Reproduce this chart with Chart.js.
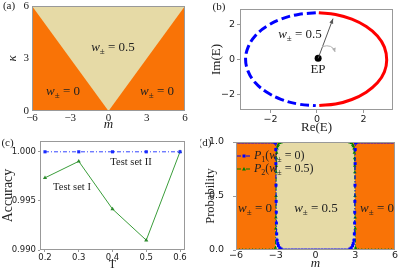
<!DOCTYPE html>
<html>
<head>
<meta charset="utf-8">
<script src="https://cdn.jsdelivr.net/npm/chart.js@4.4.1/dist/chart.umd.min.js"></script>
<style>
  body { margin: 0; background: #fff; }
  #wrap { position: relative; width: 399px; height: 272px; }
  canvas { position: absolute; }
</style>
</head>
<body>
<div id="wrap">
  <canvas id="panelA" width="200" height="136" style="left:0;top:0"></canvas>
  <canvas id="panelB" width="199" height="136" style="left:200px;top:0"></canvas>
  <canvas id="panelC" width="200" height="136" style="left:0;top:136px"></canvas>
  <canvas id="panelD" width="199" height="136" style="left:200px;top:136px"></canvas>
</div>
<script>
// (a) phase boundary kappa = |m|
const phaseM = [-6, 0, 6];
const phaseKappa = [6, 0, 6];
const aTicksM = [-6, -3, 0, 3, 6];
const aTicksKappa = [0, 3, 6];

// (b) energy loop in the complex plane
const redRe = [0.08, 0.8, 1.5, 2.12, 2.6, 2.9, 3.0, 2.9, 2.6, 2.12, 1.5, 0.8, 0.1];
const redIm = [2.65, 2.56, 2.29, 1.87, 1.33, 0.69, -0.05, -0.72, -1.35, -1.88, -2.3, -2.56, -2.64];
const blueRe = [-0.05, -0.8, -1.55, -2.17, -2.66, -2.96, -3.07, -2.96, -2.66, -2.17, -1.55, -0.8, -0.05];
const blueIm = [2.65, 2.56, 2.29, 1.87, 1.33, 0.69, 0, -0.69, -1.33, -1.87, -2.29, -2.56, -2.65];
const epRe = [0.05];
const epIm = [0.05];
const bTicksRe = [-2, 0, 2];
const bTicksIm = [-2, 0, 2];

// (c) accuracy vs T
const temps = [0.2, 0.3, 0.4, 0.5, 0.6];
const accSetI = [0.99735, 0.99903, 0.99417, 0.9910, 1.0];
const accSetII = [1.0, 1.0, 1.0, 1.0, 1.0];
const cTicksAcc = [0.990, 0.995, 1.000];

// (d) probabilities vs m
const mGrid = [-6, -5.75, -5.5, -5.25, -5, -4.75, -4.5, -4.25, -4, -3.75, -3.5, -3.25, -3.1,
  -3.04, -3.02, -3.0, -2.99, -2.98, -2.97, -2.96, -2.95, -2.93, -2.9, -2.85, -2.8, -2.7, -2.6, -2.5,
  -2.25, -2, -1.75, -1.5, -1.25, -1, -0.75, -0.5, -0.25, 0, 0.25, 0.5, 0.75, 1, 1.25, 1.5, 1.75, 2, 2.25,
  2.5, 2.6, 2.7, 2.8, 2.85, 2.9, 2.93, 2.95, 2.96, 2.97, 2.98, 2.99, 3.0, 3.02, 3.04,
  3.1, 3.25, 3.5, 3.75, 4, 4.25, 4.5, 4.75, 5, 5.25, 5.5, 5.75, 6];
const probP1 = [1, 1, 1, 1, 1, 1, 1, 1, 1, 1, 1, 1, 1,
  1.0, 0.99, 0.93, 0.8, 0.6, 0.45, 0.35, 0.25, 0.15, 0.09, 0.06, 0.04, 0.02, 0.01, 0.0,
  0, 0, 0, 0, 0, 0, 0, 0, 0, 0, 0, 0, 0, 0, 0, 0, 0, 0, 0,
  0.0, 0.01, 0.02, 0.04, 0.06, 0.09, 0.15, 0.25, 0.35, 0.45, 0.6, 0.8, 0.93, 0.99, 1.0,
  1, 1, 1, 1, 1, 1, 1, 1, 1, 1, 1, 1, 1];
const probP2 = [0, 0, 0, 0, 0, 0, 0, 0, 0, 0, 0, 0, 0,
  0.0, 0.02, 0.2, 0.3, 0.5, 0.72, 0.78, 0.85, 0.9, 0.94, 0.96, 0.975, 0.99, 0.995, 1.0,
  1, 1, 1, 1, 1, 1, 1, 1, 1, 1, 1, 1, 1, 1, 1, 1, 1, 1, 1,
  1.0, 0.995, 0.99, 0.975, 0.96, 0.94, 0.9, 0.85, 0.78, 0.72, 0.5, 0.3, 0.2, 0.02, 0.0,
  0, 0, 0, 0, 0, 0, 0, 0, 0, 0, 0, 0, 0];
const dTicksM = [-6, -3, 0, 3, 6];
const dTicksP = [0, 0.5, 1];

const SERIF = '"Liberation Serif", "DejaVu Serif", serif';
const SANS = '"DejaVu Sans", sans-serif';
const ORANGE = '#f97306';
const BEIGE = '#e6daa6';
const INK = '#222';

const pts = (xs, ys) => xs.map((x, i) => ({x: x, y: ys[i]}));
const minus = v => (v < 0 ? '\u2212' + Math.abs(v) : '' + v);

// draw text made of italic / upright / subscript pieces
function richText(ctx, parts, x, y, size, align) {
  const fontOf = k => k === 's' ? `${Math.round(size * 0.7)}px ${SERIF}`
                                 : `${k === 'i' ? 'italic ' : ''}${size}px ${SERIF}`;
  let w = 0;
  parts.forEach(([t, k]) => { ctx.font = fontOf(k); w += ctx.measureText(t).width; });
  let cx = align === 'left' ? x : x - w / 2;
  ctx.textAlign = 'left';
  ctx.textBaseline = 'middle';
  parts.forEach(([t, k]) => {
    ctx.font = fontOf(k);
    ctx.fillText(t, cx, k === 's' ? y + size * 0.3 : y);
    cx += ctx.measureText(t).width;
  });
}

function plainText(ctx, t, x, y, size, family) {
  ctx.font = `${size}px ${family || SERIF}`;
  ctx.textAlign = 'center';
  ctx.textBaseline = 'middle';
  ctx.fillText(t, x, y);
}

function arrowHead(ctx, x1, y1, x2, y2, len, half) {
  const ang = Math.atan2(y2 - y1, x2 - x1);
  ctx.beginPath();
  ctx.moveTo(x2, y2);
  ctx.lineTo(x2 - len * Math.cos(ang) + half * Math.sin(ang), y2 - len * Math.sin(ang) - half * Math.cos(ang));
  ctx.lineTo(x2 - len * Math.cos(ang) - half * Math.sin(ang), y2 - len * Math.sin(ang) + half * Math.cos(ang));
  ctx.closePath();
  ctx.fill();
}

// background of the plot area, frame and annotations
function panelPlugin(bg, extras) {
  return {
    id: 'panel',
    beforeDraw(chart) {
      const {ctx, chartArea: a} = chart;
      if (!bg) return;
      ctx.save();
      ctx.fillStyle = bg;
      ctx.fillRect(a.left, a.top, a.right - a.left, a.bottom - a.top);
      ctx.restore();
    },
    afterDraw(chart) {
      const {ctx, chartArea: a} = chart;
      ctx.save();
      ctx.strokeStyle = '#999';
      ctx.lineWidth = 1;
      ctx.strokeRect(a.left + 0.5, a.top + 0.5, a.right - a.left - 1, a.bottom - a.top - 1);
      ctx.fillStyle = INK;
      if (extras) extras(chart, ctx);
      ctx.restore();
    }
  };
}

function axis(pos, min, max, ticks, o) {
  return {
    type: 'linear', position: pos, min: min, max: max,
    afterBuildTicks: s => { s.ticks = ticks.map(v => ({value: v})); },
    afterFit: s => {
      if (pos === 'left') s.width = o.size; else s.height = o.size;
      s.paddingLeft = s.paddingRight = s.paddingTop = s.paddingBottom = 0;
    },
    border: {display: false},
    grid: {display: true, drawOnChartArea: false, drawTicks: o.tick > 0, tickLength: o.tick, tickColor: '#999'},
    ticks: {font: o.font, color: INK, padding: o.pad, maxRotation: 0, autoSkip: false,
            callback: o.fmt || (v => minus(v))},
    title: {display: true, text: o.title, font: o.titleFont, color: INK, padding: o.titlePad}
  };
}

function baseOptions(padding, scales, filler) {
  return {
    responsive: false, animation: false, devicePixelRatio: 1,
    layout: {padding: padding},
    plugins: {legend: {display: false}, tooltip: {enabled: false},
              filler: {drawTime: filler || 'beforeDatasetsDraw'}},
    scales: scales
  };
}

const W = (v) => [['w', 'i'], ['\u00b1', 's'], [' = ' + v, 'n']];

// ---------- (a)
new Chart(document.getElementById('panelA'), {
  type: 'line',
  data: {datasets: [{
    data: pts(phaseM, phaseKappa),
    fill: 'end', backgroundColor: BEIGE, borderWidth: 0, pointRadius: 0
  }]},
  options: baseOptions({left: 0, top: 6, right: 15, bottom: 0}, {
    x: axis('bottom', -6, 6, aTicksM, {size: 25, tick: 0, pad: 1, font: {family: SERIF, size: 11},
      title: 'm', titleFont: {family: SERIF, size: 13, style: 'italic'}, titlePad: {top: 0, bottom: 4}}),
    y: axis('left', 0, 6, aTicksKappa, {size: 32, tick: 0, pad: 3, font: {family: SERIF, size: 11},
      title: '\u03ba', titleFont: {family: SERIF, size: 13, style: 'italic'}, titlePad: {top: 5, bottom: 0}})
  }),
  plugins: [panelPlugin(ORANGE, (chart, ctx) => {
    plainText(ctx, '(a)', 9, 6, 11);
    richText(ctx, W('0.5'), 113, 48, 13);
    richText(ctx, W('0'), 63, 92, 13);
    richText(ctx, W('0'), 157, 92, 13);
  })]
});

// ---------- (b)
new Chart(document.getElementById('panelB'), {
  type: 'line',
  data: {datasets: [
    {data: pts(epRe, epIm), showLine: false, pointRadius: 3.5, pointBackgroundColor: '#000', pointBorderWidth: 0},
    {data: pts(redRe, redIm), borderColor: '#ff0000', borderWidth: 3, pointRadius: 0, tension: 0.4, fill: false},
    {data: pts(blueRe, blueIm), borderColor: '#0000ff', borderWidth: 3, borderDash: [9, 4], pointRadius: 0, tension: 0.4, fill: false}
  ]},
  options: baseOptions({left: 0, top: 9, right: 6, bottom: 0}, {
    x: axis('bottom', -3.31, 3.27, bTicksRe, {size: 26, tick: 3, pad: 1, font: {family: SANS, size: 9.5},
      title: 'Re(E)', titleFont: {family: SERIF, size: 13}, titlePad: {top: 0, bottom: 1}}),
    y: axis('left', -2.9, 2.87, bTicksIm, {size: 40, tick: 3, pad: 2, font: {family: SANS, size: 9.5},
      title: 'Im(E)', titleFont: {family: SERIF, size: 13}, titlePad: {top: 9, bottom: 0}})
  }),
  plugins: [panelPlugin(null, (chart, ctx) => {
    const xs = chart.scales.x, ys = chart.scales.y;
    plainText(ctx, '(b)', 19, 7, 11);
    richText(ctx, W('0.5'), 100, 35, 13);
    plainText(ctx, 'EP', 118, 70, 13);
    // winding arrow from the EP
    const x1 = xs.getPixelForValue(0.05), y1 = ys.getPixelForValue(0.05);
    const x2 = xs.getPixelForValue(0.69), y2 = ys.getPixelForValue(2.32);
    ctx.strokeStyle = '#555'; ctx.fillStyle = '#555'; ctx.lineWidth = 1;
    ctx.beginPath(); ctx.moveTo(x1, y1); ctx.lineTo(x2, y2); ctx.stroke();
    arrowHead(ctx, x1, y1, x2, y2, 5, 2);
    // small curved arrow
    const cx0 = xs.getPixelForValue(0.22), cy0 = ys.getPixelForValue(0.72);
    const ccx = xs.getPixelForValue(0.66), ccy = ys.getPixelForValue(0.9);
    const cx1 = xs.getPixelForValue(0.78), cy1 = ys.getPixelForValue(0.42);
    ctx.strokeStyle = '#b0b0b0'; ctx.fillStyle = '#b0b0b0';
    ctx.beginPath(); ctx.moveTo(cx0, cy0); ctx.quadraticCurveTo(ccx, ccy, cx1, cy1); ctx.stroke();
    arrowHead(ctx, ccx, ccy, cx1, cy1, 4, 2);
  })]
});

// ---------- (c)
new Chart(document.getElementById('panelC'), {
  type: 'line',
  data: {datasets: [
    {data: pts(temps, accSetII), borderColor: '#3344ff', borderWidth: 1, borderDash: [4, 2, 1, 2],
     pointStyle: 'rect', pointRadius: 2.2, pointBackgroundColor: '#1a2bff', pointBorderWidth: 0, fill: false},
    {data: pts(temps, accSetI), borderColor: '#3a9d3a', borderWidth: 1,
     pointStyle: 'triangle', pointRadius: 2.4, pointBackgroundColor: '#2e8b2e', pointBorderWidth: 0, fill: false}
  ]},
  options: baseOptions({left: 0, top: 5, right: 15, bottom: 0}, {
    x: axis('bottom', 0.1852, 0.6148, temps, {size: 22, tick: 2, pad: 1, font: {family: SANS, size: 8.5},
      fmt: v => v.toFixed(1),
      title: 'T', titleFont: {family: SERIF, size: 12}, titlePad: {top: 0, bottom: 0}}),
    y: axis('left', 0.990, 1.0011, cTicksAcc, {size: 40, tick: 2, pad: 2, font: {family: SANS, size: 8.5},
      fmt: v => v.toFixed(3),
      title: 'Accuracy', titleFont: {family: SERIF, size: 14}, titlePad: {top: 0, bottom: 0}})
  }),
  plugins: [panelPlugin(null, (chart, ctx) => {
    plainText(ctx, '(c)', 7.5, 7, 11);
    plainText(ctx, 'Test set II', 131, 26, 10.5);
    plainText(ctx, 'Test set I', 72, 51, 10.5);
  })]
});

// ---------- (d)
function legendRow(ctx, y, color, dash, style, parts) {
  ctx.save();
  ctx.strokeStyle = color; ctx.fillStyle = color; ctx.lineWidth = 1;
  ctx.setLineDash(dash);
  ctx.beginPath(); ctx.moveTo(37, y); ctx.lineTo(51, y); ctx.stroke();
  ctx.setLineDash([]);
  if (style === 'rect') ctx.fillRect(42.5, y - 1.5, 3, 3);
  else { ctx.beginPath(); ctx.moveTo(44, y - 2); ctx.lineTo(46, y + 1.5); ctx.lineTo(42, y + 1.5); ctx.closePath(); ctx.fill(); }
  ctx.restore();
  ctx.fillStyle = INK;
  richText(ctx, parts, 54, y, 12, 'left');
}

new Chart(document.getElementById('panelD'), {
  type: 'line',
  data: {datasets: [
    {data: pts(mGrid, probP1), borderColor: '#0000ff', borderWidth: 1, borderDash: [4, 2, 1, 2],
     pointStyle: 'rect', pointRadius: 2.1, pointBackgroundColor: '#0000ff', pointBorderWidth: 0, fill: false},
    {data: pts(mGrid, probP2), borderColor: '#008000', borderWidth: 1, borderDash: [4, 2, 1, 2],
     pointStyle: 'triangle', pointRadius: 2, pointBackgroundColor: '#008000', pointBorderWidth: 0,
     fill: 'origin', backgroundColor: BEIGE}
  ]},
  options: baseOptions({left: 0, top: 6, right: 1, bottom: 0}, {
    x: axis('bottom', -6, 6, dTicksM, {size: 22, tick: 0, pad: 0, font: {family: SANS, size: 9.5},
      title: 'm', titleFont: {family: SERIF, size: 13, style: 'italic'}, titlePad: {top: 0, bottom: 1}}),
    y: axis('left', 0, 1, dTicksP, {size: 36, tick: 3, pad: 9, font: {family: SANS, size: 9.5},
      fmt: v => v.toFixed(1),
      title: 'Probability', titleFont: {family: SERIF, size: 12.5}, titlePad: {top: 3, bottom: 0}})
  }),
  plugins: [panelPlugin(ORANGE, (chart, ctx) => {
    plainText(ctx, '(d)', 5, 7, 11);
    richText(ctx, W('0'), 55, 73, 13);
    richText(ctx, W('0.5'), 116, 73, 13);
    richText(ctx, W('0'), 177, 73, 13);
    legendRow(ctx, 20, '#0000ff', [4, 2, 1, 2], 'rect', [['P', 'i'], ['1', 's'], ['(', 'n'], ['w', 'i'], ['\u00b1', 's'], [' = 0)', 'n']]);
    legendRow(ctx, 33, '#008000', [4, 2, 1, 2], 'tri', [['P', 'i'], ['2', 's'], ['(', 'n'], ['w', 'i'], ['\u00b1', 's'], [' = 0.5)', 'n']]);
  })]
});
</script>
</body>
</html>
